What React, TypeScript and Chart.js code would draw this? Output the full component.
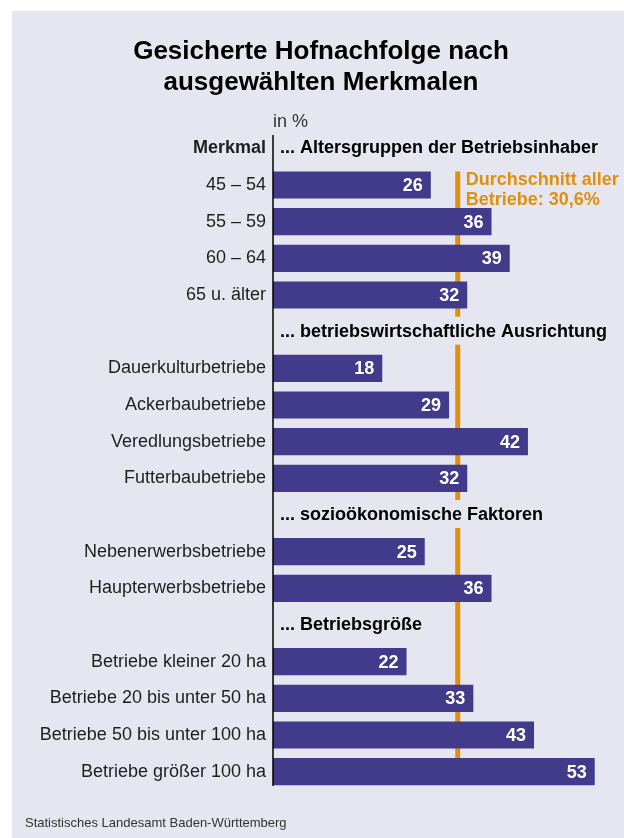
import React, { useEffect, useRef } from "react";
import { Chart, registerables } from "chart.js";

Chart.register(...registerables);

const categories = [
  "Merkmal",
  "45 – 54",
  "55 – 59",
  "60 – 64",
  "65 u. älter",
  "",
  "Dauerkulturbetriebe",
  "Ackerbaubetriebe",
  "Veredlungsbetriebe",
  "Futterbaubetriebe",
  "",
  "Nebenerwerbsbetriebe",
  "Haupterwerbsbetriebe",
  "",
  "Betriebe kleiner 20 ha",
  "Betriebe 20 bis unter 50 ha",
  "Betriebe 50 bis unter 100 ha",
  "Betriebe größer 100 ha",
];
const values: (number | null)[] = [
  null, 26, 36, 39, 32, null, 18, 29, 42, 32, null, 25, 36, null, 22, 33, 43, 53,
];
const groupHeaders = [
  "... Altersgruppen der Betriebsinhaber",
  "... betriebswirtschaftliche Ausrichtung",
  "... sozioökonomische Faktoren",
  "... Betriebsgröße",
];
const groupHeaderIndex = [0, 5, 10, 13];
const averageValue = 30.6;
const averageLabel = ["Durchschnitt aller", "Betriebe: 30,6%"];
const titleLines = ["Gesicherte Hofnachfolge nach", "ausgewählten Merkmalen"];
const unitLabel = "in %";
const sourceLabel = "Statistisches Landesamt Baden-Württemberg";

const FONT = "'Liberation Sans', Arial, sans-serif";
const PANEL = "#e6e6f0";
const BAR = "#423b8b";
const ORANGE = "#e0900c";
const TEXT = "#1e1e1e";

const decorPlugin = {
  id: "decor",
  beforeDraw(chart: any) {
    const ctx = chart.ctx;
    ctx.save();
    ctx.fillStyle = "#ffffff";
    ctx.fillRect(0, 0, chart.width, chart.height);
    ctx.fillStyle = PANEL;
    ctx.fillRect(12, 11, chart.width - 12, chart.height - 11);
    // title
    ctx.fillStyle = "#000";
    ctx.font = `bold 26px ${FONT}`;
    ctx.textAlign = "center";
    ctx.textBaseline = "middle";
    ctx.fillText(titleLines[0], 321, 52);
    ctx.fillText(titleLines[1], 321, 83);
    // unit
    const xs = chart.scales.x;
    ctx.font = `18px ${FONT}`;
    ctx.fillStyle = "#333";
    ctx.textAlign = "left";
    ctx.fillText(unitLabel, xs.getPixelForValue(0), 122);
    // source
    ctx.font = `13px ${FONT}`;
    ctx.fillStyle = "#333";
    ctx.fillText(sourceLabel, 25, 823);
    ctx.restore();
  },
  beforeDatasetsDraw(chart: any) {
    const ctx = chart.ctx;
    const xs = chart.scales.x;
    const ys = chart.scales.y;
    const meta = chart.getDatasetMeta(0);
    const first = meta.data[1];
    const last = meta.data[values.length - 1];
    const ax = xs.getPixelForValue(averageValue) - 1;
    ctx.save();
    ctx.strokeStyle = ORANGE;
    ctx.lineWidth = 5;
    ctx.beginPath();
    ctx.moveTo(ax, first.y - first.height / 2);
    ctx.lineTo(ax, last.y);
    ctx.stroke();
    // group headers
    ctx.font = `bold 18px ${FONT}`;
    ctx.textAlign = "left";
    ctx.textBaseline = "middle";
    groupHeaderIndex.forEach((idx, i) => {
      const y = ys.getPixelForValue(idx);
      const x = xs.getPixelForValue(0) + 7;
      const w = ctx.measureText(groupHeaders[i]).width;
      ctx.fillStyle = PANEL;
      ctx.fillRect(x - 2, y - 15, w + 6, 28);
      ctx.fillStyle = "#000";
      ctx.fillText(groupHeaders[i], x, y);
    });
    ctx.restore();
  },
  afterDatasetsDraw(chart: any) {
    const ctx = chart.ctx;
    const xs = chart.scales.x;
    const meta = chart.getDatasetMeta(0);
    ctx.save();
    ctx.font = `bold 18px ${FONT}`;
    ctx.fillStyle = "#fff";
    ctx.textAlign = "right";
    ctx.textBaseline = "middle";
    meta.data.forEach((bar: any, i: number) => {
      const v = values[i];
      if (v == null) return;
      ctx.fillText(String(v), bar.x - 8, bar.y + 1);
    });
    // average label
    ctx.fillStyle = ORANGE;
    ctx.textAlign = "left";
    const ax = xs.getPixelForValue(averageValue);
    ctx.fillText(averageLabel[0], ax + 7, 180);
    ctx.fillText(averageLabel[1], ax + 7, 200);
    // axis line
    const x0 = xs.getPixelForValue(0);
    ctx.strokeStyle = "#000";
    ctx.lineWidth = 1.5;
    ctx.beginPath();
    ctx.moveTo(x0, chart.chartArea.top + 5);
    ctx.lineTo(x0, chart.chartArea.bottom - 4);
    ctx.stroke();
    ctx.restore();
  },
};

export default function App() {
  const ref = useRef<HTMLCanvasElement | null>(null);
  useEffect(() => {
    if (!ref.current) return;
    const chart = new Chart(ref.current, {
      type: "bar",
      data: {
        labels: categories,
        datasets: [
          {
            data: values as any,
            backgroundColor: BAR,
            borderWidth: 0,
            barPercentage: 0.74,
            categoryPercentage: 1,
          },
        ],
      },
      options: {
        indexAxis: "y",
        responsive: false,
        animation: false,
        devicePixelRatio: 1,
        layout: { padding: { top: 130, bottom: 48, left: 0, right: 5 } },
        plugins: {
          legend: { display: false },
          tooltip: { enabled: false },
          title: { display: false },
        },
        scales: {
          x: { type: "linear", min: 0, max: 57, display: false },
          y: {
            type: "category",
            grid: { display: false, drawTicks: false },
            border: { display: false },
            ticks: {
              color: TEXT,
              padding: 7,
              autoSkip: false,
              font: (c: any) =>
                c.index === 0
                  ? { family: FONT, size: 18, weight: "bold" }
                  : { family: FONT, size: 18, weight: "normal" },
            },
            afterFit: (scale: any) => {
              scale.width = 273;
            },
          },
        },
      },
      plugins: [decorPlugin],
    });
    return () => chart.destroy();
  }, []);
  return (
    <div style={{ position: "absolute", left: 0, top: 0, width: 624, height: 838 }}>
      <canvas ref={ref} width={624} height={838} style={{ width: 624, height: 838, display: "block" }} />
    </div>
  );
}
